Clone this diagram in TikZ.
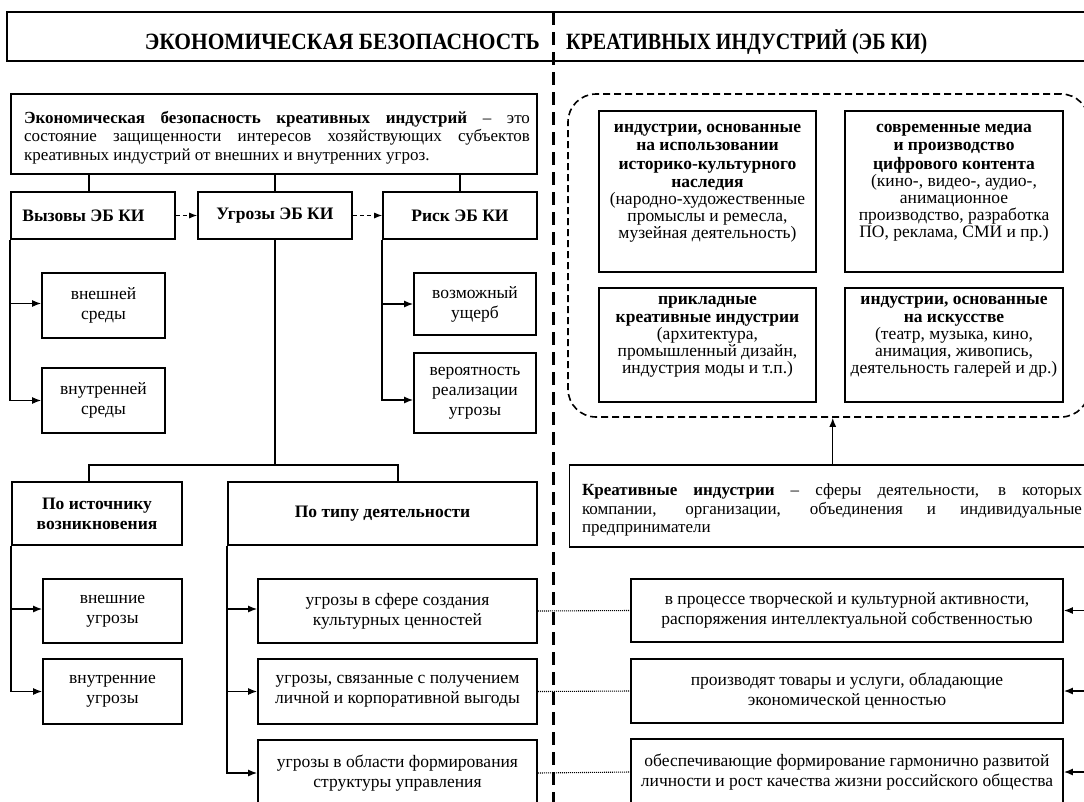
\documentclass[tikz,border=0pt]{standalone}
\usepackage{graphicx}
\usepackage{fontspec}
\setmainfont{Liberation Serif}
\usetikzlibrary{arrows.meta}
\newcommand\fbody{\fontsize{17.5}{20}\selectfont\hyphenpenalty=10000 }
\newcommand\fdef{\fontsize{17}{18.5}\selectfont\hyphenpenalty=10000 }
\newcommand\ftight{\fontsize{17.5}{18.5}\selectfont\hyphenpenalty=10000 }
\newcommand\ftitle{\fontsize{22}{24}\selectfont\bfseries}
\begin{document}
\begin{tikzpicture}[x=1pt,y=-1pt,
  box/.style={draw, line width=1.7pt, inner sep=0pt, align=center, font=\fbody, fill=white},
  plain/.style={inner sep=0pt, align=center, font=\ftight},
  conn/.style={line width=1.4pt},
  arr/.style={line width=1.4pt, -{Latex[length=9pt,width=7pt]}},
  darr/.style={line width=0.9pt, dash pattern=on 4pt off 3pt, -{Latex[length=8pt,width=6pt]}},
  dots/.style={line width=1.1pt, dash pattern=on 1pt off 1pt},
  bigdash/.style={line width=3pt, dash pattern=on 13pt off 7pt},
  groupbox/.style={draw, line width=1.6pt, dash pattern=on 7pt off 4pt, rounded corners=28pt, inner sep=0pt}
]
\useasboundingbox (0,0) rectangle (1084,801);
\clip (0,0) rectangle (1084,801);

% title
\node[draw, line width=2.2pt, minimum width=1093pt, minimum height=49pt, inner sep=0pt] (title) at (553.5,36.5) {};
\node[anchor=base east, inner sep=0pt, font=\ftitle] (tl) at (540,49) {\scalebox{0.975}[1.06]{ЭКОНОМИЧЕСКАЯ БЕЗОПАСНОСТЬ}};
\node[anchor=base west, inner sep=0pt, font=\ftitle] (tr) at (566,49) {\scalebox{0.91}[1.06]{КРЕАТИВНЫХ ИНДУСТРИЙ (ЭБ КИ)}};

% definition box
\node[box, minimum width=526pt, minimum height=80pt] (defb) at (274,134) {};
\node[plain, font=\fdef, text width=506pt, align=justify] (deft) at (277,137.5)
  {\textbf{Экономическая безопасность креативных индустрий} – это\linebreak
   состояние защищенности интересов хозяйствующих субъектов\linebreak
   креативных индустрий от внешних и внутренних угроз.};

% row boxes
\node[box, minimum width=164pt, minimum height=47pt] (vyz) at (93,215.5) {};
\node[plain, font=\fbody\bfseries] (vyzt) at (83.5,216) {Вызовы ЭБ КИ};
\node[box, font=\fbody\bfseries, minimum width=154pt, minimum height=47pt] (ugr) at (275,215.5) {Угрозы ЭБ КИ};
\node[box, font=\fbody\bfseries, minimum width=154pt, minimum height=47pt] (risk) at (460,215.5) {Риск ЭБ КИ};
\draw[conn] ([xshift=-4pt]vyz.north) -- ([xshift=-4pt]vyz.north |- defb.south);
\draw[conn] (ugr.north) -- (ugr.north |- defb.south);
\draw[conn] (risk.north) -- (risk.north |- defb.south);
\draw[darr] (vyz.east) -- (ugr.west);
\draw[darr] (ugr.east) -- (risk.west);

% challenges
\node[box, minimum width=123pt, minimum height=65pt] (vs) at (103.5,305.5) {внешней\\среды};
\node[box, minimum width=123pt, minimum height=65pt] (vn) at (103.5,400.5) {внутренней\\среды};
\draw[arr] (vyz.south west) |- ([yshift=2pt]vs.west);
\draw[arr] (vyz.south west) |- (vn.west);

% risk
\node[box, minimum width=122pt, minimum height=62pt] (ush) at (475,304) {возможный\\ущерб};
\node[box, minimum width=122pt, minimum height=80pt] (ver) at (475,393) {вероятность\\реализации\\угрозы};
\draw[arr] (risk.south west) |- (ush.west);
\draw[arr] (risk.south west) |- ([yshift=-7pt]ver.west);

% threats classification
\coordinate (hj) at (275,465);
\node[box, font=\fbody\bfseries, minimum width=170pt, minimum height=63pt] (src) at (97,513.5) {По источнику\\возникновения};
\node[box, font=\fbody\bfseries, minimum width=309pt, minimum height=63pt] (typ) at (382.5,513.5) {По типу деятельности};
\draw[conn] (ugr.south) -- (hj);
\draw[conn] ([xshift=-8pt]src.north) |- (hj) -| ([xshift=15.5pt]typ.north);

\node[box, minimum width=139pt, minimum height=64pt] (vu) at (112.5,611) {внешние\\угрозы};
\node[box, minimum width=139pt, minimum height=65pt] (iu) at (112.5,691.5) {внутренние\\угрозы};
\draw[arr] (src.south west) |- ([yshift=2pt]vu.west);
\draw[arr] (src.south west) |- (iu.west);

\node[box, minimum width=279pt, minimum height=64pt] (t1) at (397.5,611) {угрозы в сфере создания\\культурных ценностей};
\node[box, minimum width=279pt, minimum height=65pt] (t2) at (397.5,691.5) {угрозы, связанные с получением\\личной и корпоративной выгоды};
\node[box, minimum width=279pt, minimum height=66pt] (t3) at (397.5,773) {угрозы в области формирования\\структуры управления};
\draw[arr] (typ.south west) |- ([yshift=2pt]t1.west);
\draw[arr] (typ.south west) |- (t2.west);
\draw[arr] (typ.south west) |- (t3.west);

% right side: groups
\node[groupbox, minimum width=521pt, minimum height=323pt] (grp) at (828.5,255.5) {};
\node[box, minimum width=217pt, minimum height=161pt] (ia) at (707.5,191.5) {};
\node[box, minimum width=218pt, minimum height=161pt] (ib) at (954,191.5) {};
\node[box, minimum width=217pt, minimum height=114pt] (ic) at (707.5,345) {};
\node[box, minimum width=218pt, minimum height=114pt] (id) at (954,345) {};
\node[plain, anchor=north] (iat) at (707.5,124) {\textbf{индустрии, основанные}\\ \textbf{на использовании}\\ \textbf{историко-культурного}\\ \textbf{наследия}\\[-1.5pt] (народно-художественные\\[-1.5pt] промыслы и ремесла,\\[-1.5pt] музейная деятельность)};
\node[plain, anchor=north] (ibt) at (954,124) {\textbf{современные медиа}\\ \textbf{и производство}\\ \textbf{цифрового контента}\\[-1.5pt] (кино-, видео-, аудио-,\\[-1.5pt] анимационное\\[-1.5pt] производство, разработка\\[-1.5pt] ПО, реклама, СМИ и пр.)};
\node[plain, anchor=north] (ict) at (707.5,296) {\textbf{прикладные}\\ \textbf{креативные индустрии}\\[-1.5pt] (архитектура,\\[-1.5pt] промышленный дизайн,\\[-1.5pt] индустрия моды и т.п.)};
\node[plain, anchor=north] (idt) at (954,296) {\textbf{индустрии, основанные}\\ \textbf{на искусстве}\\[-1.5pt] (театр, музыка, кино,\\[-1.5pt] анимация, живопись,\\[-1.5pt] деятельность галерей и др.)};

% creative industries definition
\node[box, minimum width=526.5pt, minimum height=82pt] (kri) at (832.75,506) {};
\node[plain, font=\fdef, text width=500pt, align=justify] (krit) at (832,510)
  {\textbf{Креативные индустрии} – сферы деятельности, в которых\linebreak
   компании, организации, объединения и индивидуальные\linebreak
   предприниматели};
\draw[arr] (kri.north) -- (kri.north |- grp.south);

% bottom right boxes
\node[box, minimum width=432pt, minimum height=63pt] (r1) at (847,610.5) {в процессе творческой и культурной активности,\\распоряжения интеллектуальной собственностью};
\node[box, minimum width=432pt, minimum height=64pt] (r2) at (847,691) {производят товары и услуги, обладающие\\экономической ценностью};
\node[box, minimum width=432pt, minimum height=66pt] (r3) at (847,772) {обеспечивающие формирование гармонично развитой\\личности и рост качества жизни российского общества};
\coordinate (redge) at (1095,0);
\draw[arr] (r1.east -| redge) -- (r1.east);
\draw[arr] (r2.east -| redge) -- (r2.east);
\draw[arr] (r3.east -| redge) -- (r3.east);
\draw[dots] (t1.east) -- (r1.west);
\draw[dots] (t2.east) -- (r2.west);
\draw[dots] (t3.east) -- (r3.west);

% central dashed divider
\coordinate (vtop) at (553,12);
\coordinate (vbot) at (553,805);
\draw[bigdash] (vtop) -- (vbot);
\end{tikzpicture}
\end{document}
